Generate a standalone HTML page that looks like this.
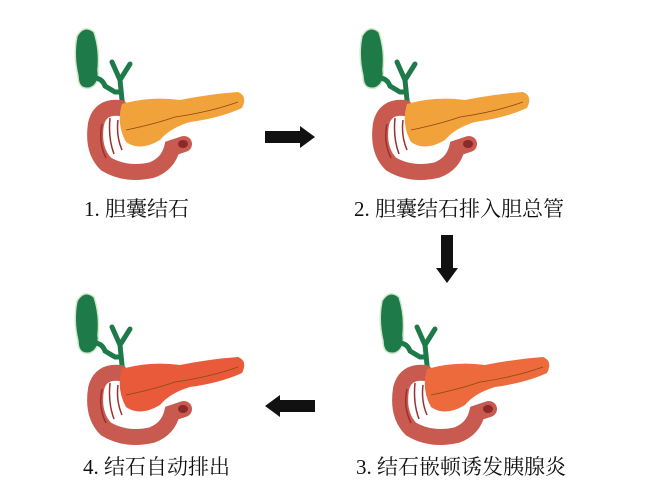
<!DOCTYPE html>
<html><head><meta charset="utf-8"><style>
html,body{margin:0;padding:0;background:#fff;}
.t{position:absolute;font-family:"Liberation Serif","Noto Serif CJK SC",serif;font-size:21px;color:#111;white-space:nowrap;}
</style></head><body>
<div style="position:relative;width:653px;height:490px;overflow:hidden;">
<svg width="653" height="490" style="position:absolute;left:0;top:0">
<defs>
<g id="organ">
  <!-- gallbladder -->
  <path d="M17,16 Q24,4 34,12 Q40,30 38,50 Q40,64 30,68 Q18,70 18,56 Q13,35 17,16Z" fill="#1f7a4a" stroke="#cfe8c8" stroke-width="1.5"/>
  <path d="M34,58 Q42,58 45,66 L55,72 L60,72" fill="none" stroke="#1f7a4a" stroke-width="5"/>
  <path d="M52,42 L60,60 L70,44 M60,60 L62,80 L65,100" fill="none" stroke="#1f7a4a" stroke-width="5" stroke-linecap="round"/>
  <!-- duodenum thick C -->
  <path d="M60,88 Q40,86 36,104 Q32,130 46,144 Q66,156 92,150 Q108,144 112,128 L124,124" fill="none" stroke="#c85a50" stroke-width="16" stroke-linecap="round"/>
  <path d="M42,104 Q38,122 46,138 M50,98 Q48,118 54,134 M58,100 Q56,116 62,130" fill="none" stroke="#9a3030" stroke-width="1.5"/>
  <!-- pancreas -->
  <path d="M62,84 Q90,76 120,80 Q150,74 178,72 Q188,76 182,88 Q160,98 130,102 Q110,108 100,120 Q80,132 66,122 Q56,104 62,84Z" fill="var(--p)"/>
  <path d="M66,110 Q95,104 115,97 Q150,92 178,82" fill="none" stroke="#8a4a10" stroke-width="0.8"/>
  <ellipse cx="122" cy="124" rx="8" ry="7" fill="#c85a50"/>
  <ellipse cx="123" cy="124" rx="5" ry="4" fill="#8a2a2a"/>
</g>
</defs>
<g style="--p:#f2a23a" transform="translate(60,20)"><use href="#organ"/></g>
<g style="--p:#f2a23a" transform="translate(345,20)"><use href="#organ"/></g>
<g style="--p:#e85a3a" transform="translate(60,285)"><use href="#organ"/></g>
<g style="--p:#ec6a3c" transform="translate(365,285)"><use href="#organ"/></g>
<path d="M265,131 L300,131 L300,126 L315,137 L300,148 L300,143 L265,143Z" fill="#111"/>
<path d="M441,235 L453,235 L453,268 L458,268 L447,283 L436,268 L441,268Z" fill="#111"/>
<path d="M315,400 L280,400 L280,395 L265,406 L280,417 L280,412 L315,412Z" fill="#111"/>
</svg>
<div class="t" style="left:84px;top:193px">1. 胆囊结石</div>
<div class="t" style="left:354px;top:193px">2. 胆囊结石排入胆总管</div>
<div class="t" style="left:83px;top:451px">4. 结石自动排出</div>
<div class="t" style="left:356px;top:451px">3. 结石嵌顿诱发胰腺炎</div>
</div>
</body></html>
